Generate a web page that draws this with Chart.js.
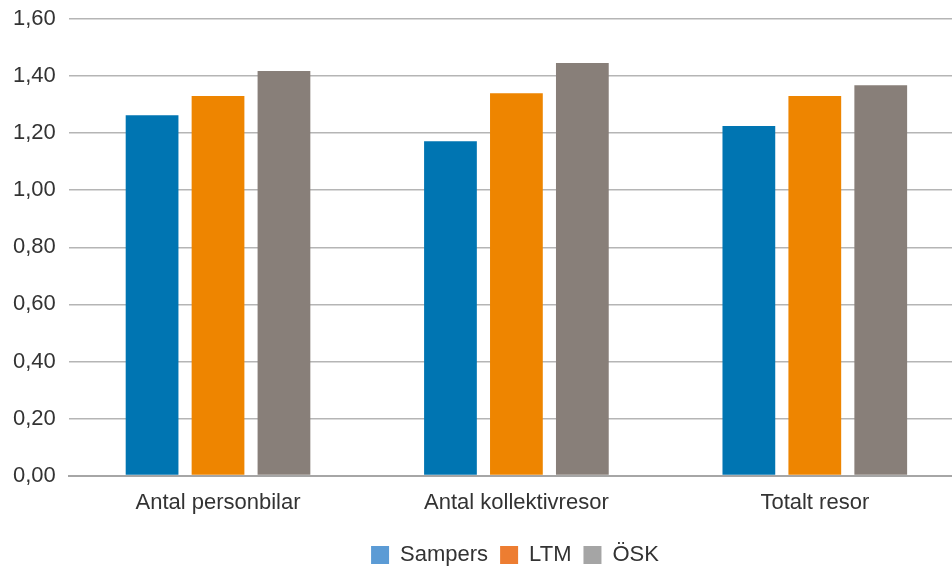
<!DOCTYPE html>
<html lang="sv">
<head>
  <meta charset="UTF-8" />
  <title>Resor per modell</title>
  <script src="https://cdn.jsdelivr.net/npm/chart.js"></script>
  <style>
    html, body {
      margin: 0;
      padding: 0;
      background: #ffffff;
      overflow: hidden;
    }
    /* the original plot runs a little past the right edge of the picture */
    #wrap {
      width: 964px;
      height: 566px;
    }
  </style>
</head>
<body>
  <div id="wrap"><canvas id="chart"></canvas></div>

  <script>
    const categories = ['Antal personbilar', 'Antal kollektivresor', 'Totalt resor'];
    const sampers = [1.263, 1.172, 1.225];
    const ltm = [1.330, 1.340, 1.330];
    const osk = [1.418, 1.446, 1.368];

    const seriesNames = ['Sampers', 'LTM', 'ÖSK'];
    const barColors = ['#0075b2', '#ee8500', '#887f79'];
    const legendColors = ['#5b9bd5', '#ed7d31', '#a5a5a5'];

    const font = "'Liberation Sans', Arial, sans-serif";

    // the legend sits a little right of the centre in the original
    const legendShift = {
      id: 'legendShift',
      afterLayout(chart) {
        const lg = chart.legend;
        if (lg) {
          lg.left += 33; lg.right += 33;
          lg.top += 2; lg.bottom += 2;
        }
      }
    };

    const ctx = document.getElementById('chart').getContext('2d');

    new Chart(ctx, {
      type: 'bar',
      data: {
        labels: categories,
        datasets: [sampers, ltm, osk].map((vals, i) => ({
          label: seriesNames[i],
          data: vals,
          backgroundColor: barColors[i],
          borderWidth: 0,
          categoryPercentage: 0.663,
          barPercentage: 0.8
        }))
      },
      options: {
        responsive: true,
        maintainAspectRatio: false,
        animation: false,
        layout: { padding: { top: 19, right: 0, left: 0, bottom: -8 } },
        scales: {
          x: {
            grid: { display: false, drawTicks: false },
            border: { display: true, color: '#a6a6a6', width: 2 },
            ticks: {
              color: '#333333',
              padding: 14,
              font: { family: font, size: 22 }
            }
          },
          y: {
            min: 0,
            max: 1.6,
            grid: { color: '#b5b5b5', lineWidth: 1.5, drawTicks: false },
            border: { display: false },
            afterFit: s => { s.paddingTop = 0; s.paddingBottom = 0; },
            ticks: {
              stepSize: 0.2,
              color: '#333333',
              padding: 13,
              font: { family: font, size: 22 },
              callback: v => v.toFixed(2).replace('.', ',')
            }
          }
        },
        plugins: {
          title: { display: false },
          tooltip: { enabled: false },
          legend: {
            position: 'bottom',
            labels: {
              color: '#333333',
              boxWidth: 18,
              boxHeight: 18,
              padding: 12,
              font: { family: font, size: 22 },
              generateLabels: chart => chart.data.datasets.map((ds, i) => ({
                text: ds.label,
                fillStyle: legendColors[i],
                strokeStyle: legendColors[i],
                lineWidth: 0,
                hidden: false,
                datasetIndex: i,
                fontColor: '#333333'
              }))
            }
          }
        }
      },
      plugins: [legendShift]
    });
  </script>
</body>
</html>
